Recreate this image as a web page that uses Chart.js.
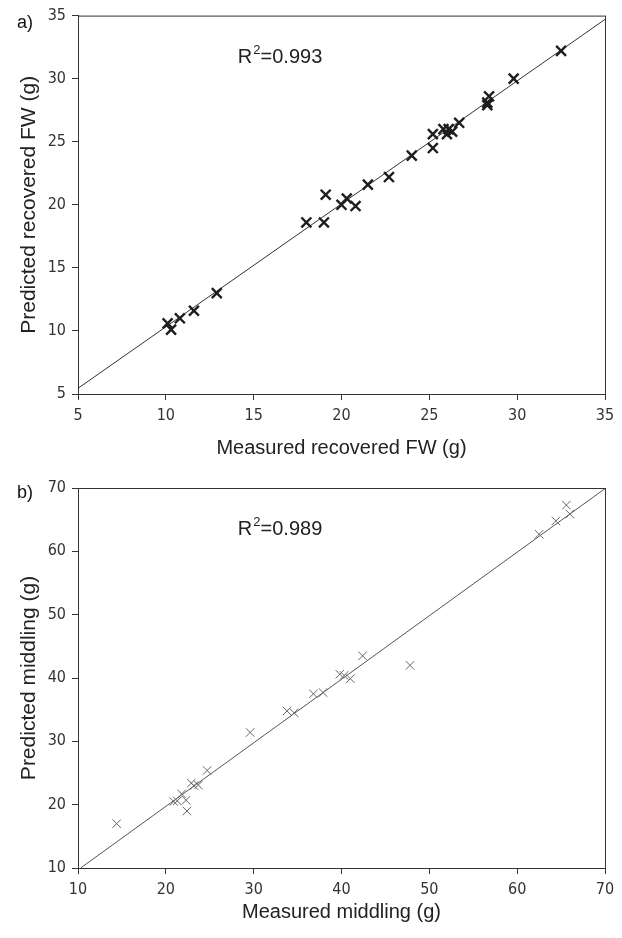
<!DOCTYPE html>
<html>
<head>
<meta charset="utf-8">
<script src="https://cdn.jsdelivr.net/npm/chart.js@4.4.1/dist/chart.umd.min.js"></script>
<style>
  html, body { margin: 0; padding: 0; background: #fff; }
  .panel { position: relative; width: 622px; height: 469px; }
  canvas { display: block; }
</style>
</head>
<body>
<div class="panel"><canvas id="fwChart" width="622" height="469"></canvas></div>
<div class="panel"><canvas id="midChart" width="622" height="469"></canvas></div>
<script>
/* ── data ── */
const fwMeasured  = [10.1, 10.3, 10.8, 11.6, 12.9, 18.0, 19.0, 19.1, 20.0, 20.3, 20.8, 21.5, 22.7, 24.0,
                     25.2, 25.2, 25.8, 26.0, 26.1, 26.3, 26.7, 28.3, 28.3, 28.4, 29.8, 32.5];
const fwPredicted = [10.6, 10.1, 11.0, 11.6, 13.0, 18.6, 18.6, 20.8, 20.0, 20.5, 19.9, 21.6, 22.2, 23.9,
                     24.5, 25.6, 26.0, 25.6, 26.0, 25.8, 26.5, 27.9, 28.1, 28.6, 30.0, 32.2];
const fwFitX = [5, 35];
const fwFitY = [5.45, 34.7];
const fwTicks = [5, 10, 15, 20, 25, 30, 35];

const midMeasured  = [14.4, 20.9, 21.3, 21.8, 22.3, 22.4, 22.9, 23.2, 23.7, 24.7, 29.6, 33.8, 34.6,
                      36.8, 37.9, 39.8, 40.3, 41.0, 42.4, 47.8, 62.5, 64.4, 65.6, 66.0];
const midPredicted = [17.0, 20.5, 20.6, 21.7, 20.7, 19.0, 23.4, 23.0, 23.1, 25.4, 31.4, 34.8, 34.5,
                      37.5, 37.7, 40.6, 40.4, 39.9, 43.5, 42.0, 62.7, 64.8, 67.3, 65.9];
const midFitX = [10.3, 70];
const midFitY = [10.0, 69.9];
const midTicks = [10, 20, 30, 40, 50, 60, 70];

const toPts = (xs, ys) => xs.map((x, i) => ({ x, y: ys[i] }));

Chart.defaults.font.family = '"Liberation Sans", Arial, sans-serif';
Chart.defaults.color = '#333';

const frame = {
  id: 'frame',
  afterDraw(chart) {
    const { ctx, chartArea: a } = chart;
    const o = chart.options.plugins.frame;
    ctx.save();
    ctx.strokeStyle = '#333'; ctx.lineWidth = 1;
    ctx.strokeRect(a.left + 0.5, a.top + 0.5, a.right - a.left, a.bottom - a.top);
    // panel letter
    ctx.fillStyle = '#111';
    ctx.font = '18px "Liberation Sans", Arial, sans-serif';
    ctx.textBaseline = 'middle'; ctx.textAlign = 'left';
    ctx.fillText(o.letter, 17, o.letterY);
    // R² note
    const x = chart.scales.x.getPixelForValue(o.noteAt[0]);
    const y = chart.scales.y.getPixelForValue(o.noteAt[1]);
    ctx.font = '20px "Liberation Sans", Arial, sans-serif';
    ctx.fillStyle = '#222';
    ctx.fillText('R', x, y);
    let w = ctx.measureText('R').width;
    ctx.font = '13px "Liberation Sans", Arial, sans-serif';
    ctx.fillText('2', x + w + 1, y - 7);
    w += ctx.measureText('2').width + 1;
    ctx.font = '20px "Liberation Sans", Arial, sans-serif';
    ctx.fillText('=' + o.note, x + w, y);
    ctx.restore();
  },
};
Chart.register(frame);

function makeChart(id, cfg) {
  const axis = (min, max, title, pad, axisSize, isX) => ({
    type: 'linear', min, max,
    afterFit: s => { if (isX) s.height = axisSize; else s.width = axisSize; },
    afterBuildTicks: s => { s.ticks = cfg.ticks.map(v => ({ value: v })); },
    border: { display: true, color: '#333', width: 1 },
    grid: { display: true, drawOnChartArea: false, drawTicks: true, tickLength: 6, color: '#333' },
    ticks: {
      color: '#333', padding: isX ? 6 : 6,
      font: { family: '"Liberation Sans Narrow", "DejaVu Sans Condensed", sans-serif', size: 16 },
    },
    title: {
      display: true, text: title, color: '#222',
      font: { size: isX ? 20 : 21 }, padding: pad,
    },
  });

  return new Chart(document.getElementById(id), {
    type: 'scatter',
    data: {
      datasets: [
        {
          data: toPts(cfg.mx, cfg.py), order: 0,
          pointStyle: 'crossRot', pointRadius: cfg.r, pointHoverRadius: cfg.r,
          borderColor: cfg.markColor, borderWidth: cfg.markWidth, backgroundColor: cfg.markColor,
        },
        {
          data: toPts(cfg.fx, cfg.fy), order: 1, showLine: true,
          pointRadius: 0, borderColor: cfg.lineColor, borderWidth: 1,
        },
      ],
    },
    options: {
      responsive: false, animation: false,
      layout: { padding: { top: cfg.top, right: 17, left: 0, bottom: 0 } },
      scales: {
        x: axis(cfg.min, cfg.max, cfg.xTitle, { bottom: cfg.xTitlePad }, cfg.xAxisH, true),
        y: axis(cfg.min, cfg.max, cfg.yTitle, { top: 17 }, 78, false),
      },
      plugins: {
        legend: { display: false }, tooltip: { enabled: false },
        frame: { letter: cfg.letter, letterY: cfg.letterY, note: cfg.note, noteAt: cfg.noteAt },
      },
    },
  });
}

makeChart('fwChart', {
  mx: fwMeasured, py: fwPredicted, fx: fwFitX, fy: fwFitY, ticks: fwTicks,
  min: 5, max: 35, r: 7, markWidth: 2.4, markColor: '#1e1e1e', lineColor: '#333',
  xTitle: 'Measured recovered FW (g)', yTitle: 'Predicted recovered FW (g)',
  top: 15, xAxisH: 75, xTitlePad: 9,
  letter: 'a)', letterY: 23, note: '0.993', noteAt: [14.1, 31.7],
});

makeChart('midChart', {
  mx: midMeasured, py: midPredicted, fx: midFitX, fy: midFitY, ticks: midTicks,
  min: 10, max: 70, r: 6, markWidth: 1, markColor: '#666', lineColor: '#555',
  xTitle: 'Measured middling (g)', yTitle: 'Predicted middling (g)',
  top: 19, xAxisH: 70, xTitlePad: 14,
  letter: 'b)', letterY: 24, note: '0.989', noteAt: [28.2, 63.5],
});
</script>
</body>
</html>
